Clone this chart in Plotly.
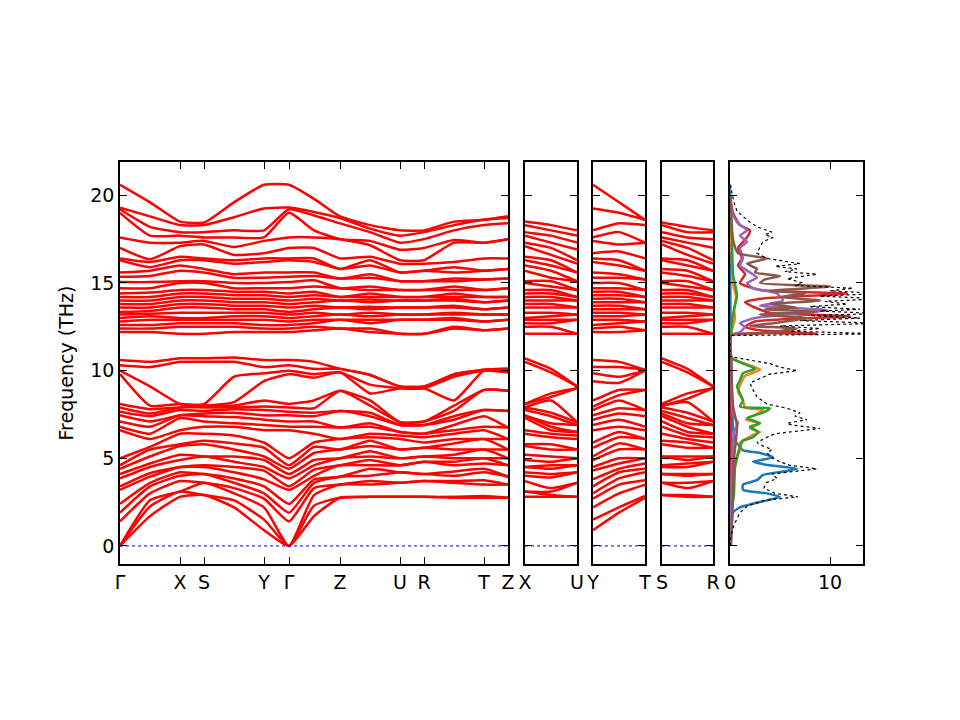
import numpy as np
import plotly.graph_objects as go

# band path: cumulative distance of the sampled k-points (path units)
main_ticks = [0, 60, 84, 144, 169, 220, 280, 304, 364, 388]
main_labels = ["Γ", "X", "S", "Y", "Γ", "Z", "U", "R", "T", "Z"]
k_main = [0, 30, 60, 84, 114, 144, 169, 194, 220, 250, 280, 304, 334, 364, 388]
k_side = [0, 0.5, 1]

# phonon frequencies (THz) at each sampled k-point, lower group (24 bands)
G_low = [0, 0, 0, 1.4, 1.9, 2.4, 3.2, 3.4, 3.85, 4.1, 4.4, 4.6, 5.0, 6.6, 6.8, 7.1, 7.45, 7.65, 7.9, 8.1, 9.8, 10.0, 10.3, 10.6]
GX_low = [1.7, 2.25, 2.6, 3.0, 3.4, 3.6, 3.95, 4.15, 4.5, 4.7, 5.1, 5.5, 5.65, 6.1, 6.4, 6.8, 7.1, 7.4, 7.55, 7.8, 8.0, 9.1, 10.2, 10.5]
X_low = [2.8, 3.1, 3.1, 3.7, 4.0, 4.2, 4.5, 4.5, 4.9, 5.2, 5.7, 5.8, 6.4, 6.6, 7.3, 7.45, 7.45, 7.75, 7.9, 7.9, 8.1, 8.1, 10.5, 10.7]
S_low = [2.9, 2.9, 3.6, 3.6, 4.1, 4.1, 4.5, 4.6, 5.1, 5.1, 5.8, 6.0, 6.4, 6.8, 7.1, 7.4, 7.55, 7.7, 7.9, 8.0, 8.0, 8.1, 10.5, 10.7]
SY_low = [2.2, 2.6, 3.0, 3.3, 3.6, 3.85, 4.2, 4.5, 4.8, 5.1, 5.5, 5.85, 6.3, 6.8, 7.0, 7.35, 7.6, 7.8, 7.9, 8.0, 8.2, 9.65, 10.5, 10.75]
Y_low = [0.9, 1.5, 2.2, 2.7, 3.0, 3.4, 3.8, 4.3, 4.5, 4.9, 5.1, 5.6, 5.9, 6.6, 6.9, 7.2, 7.45, 7.75, 7.95, 8.3, 9.4, 9.85, 10.2, 10.6]
GZ_low = [1.7, 2.3, 2.9, 3.3, 3.6, 3.8, 4.0, 4.35, 4.6, 4.9, 5.3, 5.65, 5.9, 6.4, 6.8, 7.1, 7.4, 7.6, 7.85, 8.3, 9.6, 9.8, 10.1, 10.5]
Z_low = [2.75, 2.75, 3.5, 3.5, 3.95, 3.95, 4.6, 4.6, 5.0, 5.0, 5.5, 5.5, 6.1, 6.1, 6.75, 6.75, 7.7, 7.7, 8.85, 8.85, 9.9, 9.9, 10.1, 10.1]
ZU_low = [2.8, 2.8, 3.5, 3.7, 4.0, 4.4, 4.6, 4.9, 5.1, 5.4, 5.7, 6.0, 6.2, 6.4, 6.8, 7.0, 7.4, 7.6, 8.0, 8.3, 8.7, 9.2, 9.75, 9.75]
U_low = [2.8, 2.8, 3.6, 3.6, 4.2, 4.2, 4.6, 4.6, 5.0, 5.0, 5.5, 5.5, 6.1, 6.3, 6.5, 6.5, 6.9, 6.9, 7.05, 7.05, 9.0, 9.0, 9.1, 9.1]
R_low = [2.8, 2.8, 3.7, 3.7, 4.1, 4.1, 4.8, 4.8, 5.1, 5.1, 5.6, 5.6, 5.9, 6.2, 6.4, 6.4, 6.9, 6.9, 7.1, 7.1, 9.0, 9.0, 9.1, 9.1]
RT_low = [2.75, 2.8, 3.6, 3.7, 4.0, 4.25, 4.6, 4.8, 5.0, 5.2, 5.5, 5.85, 6.1, 6.4, 6.6, 6.9, 7.2, 7.4, 7.7, 8.0, 8.3, 9.65, 9.7, 9.8]
T_low = [2.75, 2.85, 3.5, 3.75, 4.2, 4.4, 4.7, 5.0, 5.0, 5.5, 5.5, 6.1, 6.1, 6.6, 6.8, 7.4, 7.75, 7.75, 8.9, 8.9, 10.0, 10.0, 10.05, 10.05]
XU_low = [2.8, 2.9, 3.1, 3.3, 3.9, 4.1, 4.4, 4.6, 4.8, 5.1, 5.5, 5.8, 6.2, 6.4, 6.6, 6.8, 7.0, 7.4, 7.6, 8.3, 8.5, 8.7, 9.9, 10.1]
YT_low = [1.9, 2.2, 3.0, 3.5, 3.85, 4.2, 4.4, 4.7, 5.0, 5.5, 5.85, 6.2, 6.5, 6.8, 7.2, 7.55, 7.85, 8.3, 8.6, 8.9, 9.3, 9.65, 10.2, 10.5]
SR_low = [2.8, 2.9, 3.3, 3.6, 4.0, 4.1, 4.5, 4.7, 4.9, 5.1, 5.6, 5.9, 6.1, 6.3, 6.5, 6.8, 7.0, 7.3, 7.6, 8.2, 8.4, 8.7, 9.9, 10.1]

# upper group (24 bands)
G_up = [12.2, 12.4, 12.6, 12.8, 13.0, 13.2, 13.35, 13.6, 13.8, 14.0, 14.2, 14.4, 14.7, 15.05, 15.35, 15.6, 16.3, 16.4, 17.0, 17.6, 19.0, 19.2, 19.3, 20.6]
GX_up = [12.2, 12.4, 12.6, 12.9, 13.1, 13.25, 13.4, 13.6, 13.8, 14.0, 14.2, 14.45, 14.7, 15.05, 15.4, 15.7, 15.9, 16.2, 16.35, 17.3, 17.7, 18.2, 18.8, 19.6]
X_up = [12.1, 12.5, 12.7, 12.9, 13.0, 13.3, 13.6, 13.8, 14.0, 14.2, 14.4, 14.6, 15.0, 15.1, 15.7, 16.0, 16.3, 16.5, 17.1, 17.3, 17.7, 17.9, 18.3, 18.5]
S_up = [12.1, 12.5, 12.7, 12.9, 13.0, 13.3, 13.6, 13.8, 14.0, 14.2, 14.4, 14.6, 15.0, 15.1, 15.6, 15.8, 16.3, 16.4, 17.2, 17.4, 17.6, 17.9, 18.3, 18.45]
SY_up = [12.2, 12.5, 12.7, 12.9, 13.1, 13.3, 13.5, 13.7, 13.9, 14.1, 14.3, 14.5, 14.7, 15.0, 15.3, 15.5, 16.1, 16.3, 16.6, 17.05, 17.6, 18.0, 18.75, 19.6]
Y_up = [12.2, 12.4, 12.6, 12.9, 13.1, 13.3, 13.5, 13.7, 13.9, 14.1, 14.3, 14.5, 14.7, 15.0, 15.3, 15.6, 16.2, 16.4, 16.7, 17.4, 17.6, 18.0, 19.25, 20.6]
GZ_up = [12.3, 12.5, 12.7, 12.9, 13.1, 13.3, 13.5, 13.7, 13.9, 14.1, 14.3, 14.5, 14.8, 15.15, 15.4, 15.6, 16.2, 16.4, 17.0, 17.6, 18.0, 18.85, 19.05, 19.8]
Z_up = [12.4, 12.4, 12.9, 12.9, 13.2, 13.2, 13.6, 13.6, 14.0, 14.0, 14.2, 14.2, 14.7, 14.7, 15.25, 15.25, 15.8, 15.8, 16.4, 17.5, 17.5, 18.4, 18.7, 18.8]
ZU_up = [12.2, 12.4, 12.7, 12.9, 13.1, 13.3, 13.5, 13.65, 13.9, 14.05, 14.2, 14.4, 14.6, 14.8, 15.3, 15.5, 16.0, 16.3, 16.5, 17.15, 17.4, 17.9, 18.1, 18.3]
U_up = [12.1, 12.1, 12.9, 12.9, 13.2, 13.2, 13.6, 13.6, 14.0, 14.0, 14.2, 14.2, 14.6, 14.6, 15.1, 15.1, 15.6, 15.6, 16.1, 16.3, 16.9, 17.3, 17.7, 18.0]
R_up = [12.1, 12.1, 12.9, 12.9, 13.2, 13.2, 13.6, 13.6, 14.0, 14.0, 14.2, 14.2, 14.6, 14.6, 15.1, 15.1, 15.7, 15.7, 16.1, 16.3, 17.0, 17.5, 17.9, 18.0]
RT_up = [12.4, 12.5, 12.9, 13.0, 13.2, 13.3, 13.6, 13.7, 14.0, 14.1, 14.2, 14.4, 14.6, 14.8, 15.1, 15.25, 15.6, 15.9, 16.2, 17.3, 17.45, 18.0, 18.3, 18.5]
T_up = [12.3, 12.3, 12.8, 12.8, 13.2, 13.2, 13.5, 13.5, 13.9, 13.9, 14.2, 14.2, 14.6, 14.6, 15.2, 15.2, 15.7, 15.7, 16.4, 17.3, 17.3, 18.3, 18.6, 18.6]
XU_up = [12.1, 12.5, 12.7, 12.9, 13.1, 13.3, 13.6, 13.8, 14.0, 14.2, 14.4, 14.6, 14.8, 15.1, 15.3, 15.7, 16.0, 16.3, 16.6, 17.0, 17.3, 17.7, 18.0, 18.3]
YT_up = [12.2, 12.5, 12.7, 12.9, 13.1, 13.3, 13.5, 13.7, 13.9, 14.1, 14.3, 14.5, 14.7, 15.0, 15.3, 15.5, 16.0, 16.3, 16.8, 17.2, 17.9, 18.4, 19.0, 19.6]
SR_up = [12.1, 12.5, 12.7, 12.9, 13.1, 13.3, 13.6, 13.8, 14.0, 14.2, 14.4, 14.6, 14.8, 15.1, 15.4, 15.7, 16.0, 16.3, 16.6, 17.0, 17.3, 17.6, 17.9, 18.2]

main_low = [G_low, GX_low, X_low, S_low, SY_low, Y_low, G_low, GZ_low, Z_low, ZU_low, U_low, R_low, RT_low, T_low, Z_low]
main_up = [G_up, GX_up, X_up, S_up, SY_up, Y_up, G_up, GZ_up, Z_up, ZU_up, U_up, R_up, RT_up, T_up, Z_up]

# projected DOS (frequency in THz, DOS value)
tot_f = [0.0, 0.6, 1.2, 1.9, 2.3, 2.6, 2.8, 3.0, 3.3, 3.6, 3.85, 4.1, 4.4, 4.6, 4.8, 5.0, 5.3, 5.5, 5.7, 5.9,
         6.2, 6.4, 6.7, 6.9, 7.0, 7.2, 7.4, 7.6, 7.85, 8.1, 8.5, 8.9, 9.3, 9.6, 9.8, 10.0, 10.2, 10.4, 10.6, 10.75,
         10.8, 12.0, 12.1, 12.25, 12.4, 12.55, 12.7, 12.85, 13.0, 13.15, 13.25, 13.4, 13.5, 13.65, 13.8, 13.95,
         14.1, 14.25, 14.4, 14.55, 14.7, 14.85, 15.0, 15.25, 15.5, 15.65, 15.8, 15.95, 16.1, 16.4, 16.7, 17.05,
         17.35, 17.6, 17.75, 17.9, 18.2, 18.6, 19.1, 19.6, 20.1, 20.8]
tot = [0.0, 0.1, 0.4, 1.0, 1.8, 3.5, 6.8, 4.5, 3.4, 3.6, 4.7, 4.2, 8.7, 6.0, 5.0, 4.3, 3.7, 4.2, 3.3, 2.7,
       3.7, 4.5, 9.0, 6.2, 5.7, 7.7, 6.5, 7.0, 5.7, 3.7, 2.7, 2.3, 2.0, 3.3, 4.0, 6.7, 5.0, 4.0, 2.0, 0.3,
       0.0, 0.0, 15.0, 6.0, 9.0, 5.0, 15.0, 7.0, 13.0, 8.0, 15.0, 9.0, 13.0, 8.0, 11.7, 9.5,
       15.0, 9.0, 15.0, 10.0, 12.3, 6.5, 7.3, 5.7, 8.7, 5.5, 6.7, 4.5, 7.0, 3.7, 2.7, 3.0,
       3.3, 4.3, 3.5, 4.2, 2.7, 1.7, 0.7, 0.4, 0.2, 0.0]
blue_f = [0.0, 0.7, 1.9, 2.2, 2.6, 2.8, 3.0, 3.2, 3.5, 3.75, 4.05, 4.25, 4.4, 4.6, 4.8, 5.05, 5.3, 5.45, 5.65, 6.0, 6.8, 8.0, 10.7, 12.2, 20.5]
blue = [0.0, 0.15, 0.3, 1.0, 3.7, 5.0, 3.7, 1.3, 1.3, 2.7, 3.3, 5.3, 6.7, 4.0, 2.3, 4.3, 3.0, 1.3, 1.0, 0.5, 0.3, 0.2, 0.1, 0.05, 0.0]
orange_f = [0.0, 2.0, 3.0, 4.5, 5.0, 5.5, 5.9, 6.3, 6.5, 6.7, 7.0, 7.2, 7.5, 7.75, 7.9, 8.3, 8.8, 9.3, 9.7, 10.05,
            10.3, 10.6, 10.7, 12.1, 13.0, 13.5, 14.2, 15.0, 18.0, 20.0]
orange = [0.0, 0.1, 0.3, 0.5, 0.7, 1.0, 1.0, 2.2, 3.0, 2.0, 3.0, 1.6, 2.6, 3.3, 1.5, 1.3, 0.8, 1.1, 1.5, 3.0,
          2.0, 0.5, 0.0, 0.1, 0.5, 0.4, 0.6, 0.3, 0.1, 0.0]
green_f = [0.0, 2.0, 3.0, 4.5, 5.5, 6.0, 6.2, 6.5, 6.8, 7.0, 7.3, 7.6, 7.85, 7.95, 8.3, 8.7, 9.1, 9.45, 9.85, 10.1,
           10.4, 10.7, 10.8, 12.1, 13.2, 14.3, 15.5, 17.5, 20.0]
green = [0.0, 0.2, 0.4, 0.5, 0.9, 1.3, 2.3, 2.8, 2.0, 3.0, 1.7, 3.3, 4.0, 1.0, 1.3, 1.0, 0.7, 1.0, 1.3, 2.5,
         1.3, 0.2, 0.0, 0.1, 0.3, 0.7, 0.3, 0.2, 0.0]
red_f = [0.0, 10.8, 12.0, 12.1, 12.3, 12.5, 12.8, 13.1, 13.3, 13.6, 13.9, 14.1, 14.4, 14.6, 15.0, 15.5, 16.0, 16.4,
         17.0, 17.6, 18.0, 18.3, 19.0, 20.0]
red = [0.05, 0.1, 0.0, 8.7, 3.0, 1.5, 2.5, 12.0, 4.0, 2.5, 1.5, 3.0, 11.7, 3.0, 1.0, 1.5, 0.8, 1.2,
       0.8, 1.7, 2.0, 1.0, 0.3, 0.0]
purple_f = [0.0, 6.5, 7.0, 7.5, 10.8, 12.0, 12.2, 12.5, 12.7, 13.0, 13.45, 13.7, 14.0, 14.4, 14.7, 15.0, 15.3, 15.6,
            16.0, 16.4, 17.0, 17.35, 17.7, 18.0, 18.4, 19.0, 20.0]
purple = [0.05, 0.4, 0.8, 0.3, 0.1, 0.0, 1.0, 1.5, 1.0, 2.5, 9.7, 3.0, 5.3, 4.7, 2.3, 1.7, 2.7, 2.0,
          1.0, 1.3, 1.0, 1.7, 1.0, 1.7, 0.8, 0.2, 0.0]
brown_f = [0.0, 3.0, 5.0, 6.8, 8.0, 10.8, 12.0, 12.1, 12.4, 12.55, 12.7, 13.0, 13.2, 13.35, 13.5, 13.6, 13.8, 14.0,
           14.2, 14.4, 14.55, 14.8, 15.0, 15.2, 15.4, 15.6, 15.8, 16.1, 16.4, 16.7, 17.5, 19.0, 20.0]
brown = [0.1, 0.3, 0.4, 0.7, 0.3, 0.1, 0.0, 2.5, 6.7, 2.0, 4.3, 7.7, 3.0, 8.7, 3.5, 6.7, 4.0, 9.0,
         5.0, 7.5, 4.0, 10.0, 3.0, 3.5, 5.0, 2.5, 2.7, 1.7, 3.7, 0.8, 0.3, 0.1, 0.0]

FONT = "DejaVu Sans"
YRANGE = [-1.03, 21.9]


def band_lines(kx, low_cols, up_cols):
    cols = [lo + up for lo, up in zip(low_cols, up_cols)]
    bands = np.array(cols).T  # one row per band
    xs, ys = [], []
    for b in bands:
        xs += list(kx) + [None]
        ys += list(b) + [None]
    return xs, ys


fig = go.Figure()

panels = [
    ("x", "y", k_main, main_low, main_up),
    ("x2", "y2", k_side, [X_low, XU_low, U_low], [X_up, XU_up, U_up]),
    ("x3", "y3", k_side, [Y_low, YT_low, T_low], [Y_up, YT_up, T_up]),
    ("x4", "y4", k_side, [S_low, SR_low, R_low], [S_up, SR_up, R_up]),
]
for xa, ya, kx, lo, up in panels:
    xs, ys = band_lines(kx, lo, up)
    fig.add_trace(go.Scatter(x=xs, y=ys, mode="lines", xaxis=xa, yaxis=ya,
                             line=dict(color="#ff0000", width=2.5, shape="spline", smoothing=0.5),
                             hoverinfo="skip", showlegend=False))
    # zero-frequency reference line
    fig.add_shape(type="line", xref=f"{xa} domain", yref=ya, x0=0, x1=1, y0=0, y1=0,
                  line=dict(color="blue", width=1, dash="dot"))

pdos = [(blue_f, blue, "#1f77b4"), (orange_f, orange, "#ff7f0e"), (green_f, green, "#2ca02c"),
        (red_f, red, "#d62728"), (purple_f, purple, "#9467bd"), (brown_f, brown, "#8c564b")]
for f, d, c in pdos:
    fig.add_trace(go.Scatter(x=d, y=f, mode="lines", xaxis="x5", yaxis="y5",
                             line=dict(color=c, width=2.5, shape="spline", smoothing=0.5),
                             hoverinfo="skip", showlegend=False))
fig.add_trace(go.Scatter(x=tot, y=tot_f, mode="lines", xaxis="x5", yaxis="y5",
                         line=dict(color="black", width=1.2, dash="dot"),
                         hoverinfo="skip", showlegend=False))

axis_common = dict(showline=True, linecolor="black", linewidth=1.5, mirror="allticks",
                   ticks="inside", ticklen=7, tickwidth=1.2, tickcolor="black",
                   showgrid=False, zeroline=False, automargin=False,
                   tickfont=dict(family=FONT, size=19, color="black"))

# panel placement in pixels (page body adds an 8 px offset)
W, H = 960, 720
def xdom(a, b):
    return [(a - 8) / W, (b - 8) / W]
ydom = [(H - 556) / H, (H - 154) / H]

fig.update_layout(
    width=W, height=H,
    margin=dict(l=0, r=0, t=0, b=0, autoexpand=False),
    paper_bgcolor="white", plot_bgcolor="white",
    font=dict(family=FONT, size=19, color="black"),
    xaxis=dict(domain=xdom(120, 508), range=[0, 388], tickvals=main_ticks,
               ticktext=main_labels, anchor="y", **axis_common),
    xaxis2=dict(domain=xdom(525, 577), range=[0, 1], tickvals=[0, 1],
                ticktext=["X", "U"], anchor="y2", **axis_common),
    xaxis3=dict(domain=xdom(593, 645), range=[0, 1], tickvals=[0, 1],
                ticktext=["Y", "T"], anchor="y3", **axis_common),
    xaxis4=dict(domain=xdom(662, 713), range=[0, 1], tickvals=[0, 1],
                ticktext=["S", "R"], anchor="y4", **axis_common),
    xaxis5=dict(domain=xdom(730, 863), range=[0, 13.3], tickvals=[0, 10],
                anchor="y5", **axis_common),
    yaxis=dict(domain=ydom, range=YRANGE, tickvals=[0, 5, 10, 15, 20], anchor="x",
               title=dict(text="Frequency (THz)", font=dict(family=FONT, size=19), standoff=12),
               **axis_common),
)
for i in range(2, 6):
    fig.update_layout({f"yaxis{i}": dict(domain=ydom, range=YRANGE, tickvals=[0, 5, 10, 15, 20],
                                         anchor=f"x{i}", showticklabels=False, **axis_common)})

fig.write_html("out.html")
